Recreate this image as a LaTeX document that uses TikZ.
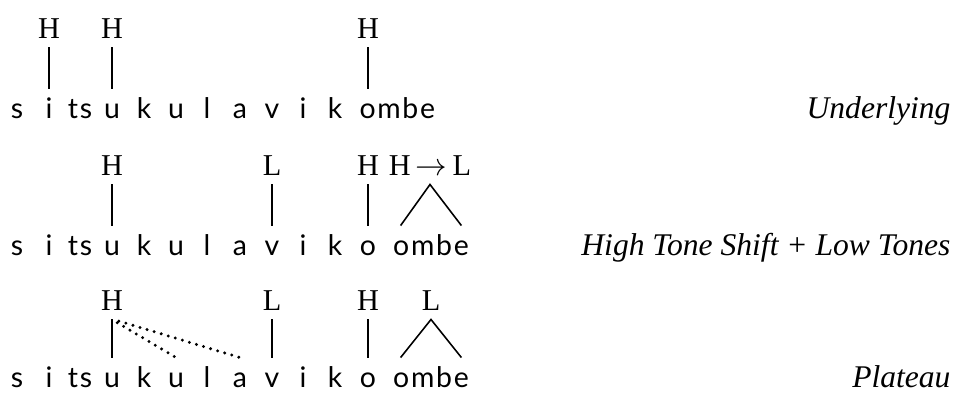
\documentclass[tikz,border=0pt]{standalone}
\usepackage{fontspec}
\setmainfont{Liberation Serif}
\setsansfont{Lato}[LetterSpace=6]
\usetikzlibrary{positioning}

\tikzset{
  seg/.style={font=\sffamily\fontsize{10.8}{12}\selectfont, anchor=base, inner xsep=0pt, inner ysep=4pt, text height=7pt, text depth=0pt},
  tone/.style={font=\fontsize{11.5}{13}\selectfont, anchor=base, inner xsep=0pt, inner ysep=3.4pt, text depth=0pt},
  rowlabel/.style={font=\itshape\fontsize{12}{14}\selectfont, anchor=base east, inner sep=0pt},
  assoc/.style={line width=0.6pt},
  spread/.style={line width=1.25pt, dash pattern=on 0pt off 2.8pt, line cap=round}
}

\begin{document}
\begin{tikzpicture}[x=0.38pt, y=-0.38pt]
    \useasboundingbox (0,0) rectangle (953,392);

    % First row - underlying tones
    \foreach \seg/\x [count=\i] in {s/17,i/49,ts/80,u/112,k/144,u/176,l/207,a/240,v/272,i/303,k/335}
        \node[seg] (a\i) at (\x,118) {\seg};
    \node[seg, anchor=base west] (a12) at (359,118) {ombe};
    \node[tone] (ha) at (49,38) {H};
    \node[tone] (hb) at (112,38) {H};
    \node[tone] (hc) at (368,38) {H};
    \draw[assoc] (ha) -- (a2);
    \draw[assoc] (hb) -- (a4);
    \draw[assoc] (hc.south) -- (hc.south |- a12.north);
    \node[rowlabel] (lab1) at (951,118) {Underlying};

    % Second row - high tone shift, low tones
    \foreach \seg/\x [count=\i] in {s/17,i/49,ts/80,u/112,k/144,u/176,l/207,a/240,v/272,i/303,k/335,o/368}
        \node[seg] (b\i) at (\x,255) {\seg};
    \node[seg] (b13) at (431,255) {ombe};
    \node[tone] (hd) at (112,175) {H};
    \node[tone] (le) at (272,175) {L};
    \node[tone] (hf) at (368,175) {H};
    \node[tone] (lg) at (430,175) {H$\,\rightarrow\,$L};
    \draw[assoc] (hd) -- (b4);
    \draw[assoc] (le) -- (b9);
    \draw[assoc] (hf) -- (b12);
    \draw[assoc] ([xshift=3pt]b13.north west) -- (lg.south) -- ([xshift=-3pt]b13.north east);
    \node[rowlabel] (lab2) at (951,255) {High Tone Shift + Low Tones};

    % Third row - plateau
    \foreach \seg/\x [count=\i] in {s/17,i/49,ts/80,u/112,k/144,u/176,l/207,a/240,v/272,i/303,k/335,o/368}
        \node[seg] (c\i) at (\x,387) {\seg};
    \node[seg] (c13) at (431,387) {ombe};
    \node[tone] (hh) at (112,310) {H};
    \node[tone] (li) at (272,310) {L};
    \node[tone] (hj) at (368,310) {H};
    \node[tone] (lk) at (431,310) {L};
    \draw[assoc] (hh) -- (c4);
    \draw[assoc] (li) -- (c9);
    \draw[assoc] (hj) -- (c12);
    \draw[assoc] ([xshift=3pt]c13.north west) -- (lk.south) -- ([xshift=-3pt]c13.north east);
    \draw[spread] ([shift={(2pt,-1.2pt)}]hh.south) -- (c6.north);
    \draw[spread] ([shift={(2.6pt,-0.6pt)}]hh.south) -- (c8.north);
    \node[rowlabel] (lab3) at (951,387) {Plateau};
\end{tikzpicture}
\end{document}
